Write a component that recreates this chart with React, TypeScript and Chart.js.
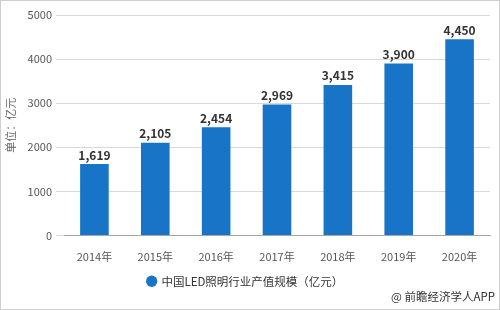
import React, { useEffect, useRef } from "react";
import { Chart, registerables } from "chart.js";

Chart.register(...registerables);

const categories = ["2014年", "2015年", "2016年", "2017年", "2018年", "2019年", "2020年"];
const values = [1619, 2105, 2454, 2969, 3415, 3900, 4450];
const seriesName = "中国LED照明行业产值规模（亿元）";
const yTitle = "单位：亿元";
const sourceText = "@ 前瞻经济学人APP";

const BAR = "#1874c6";
const FONT = "'Noto Sans CJK SC', 'Noto Sans', sans-serif";

const dataLabels = {
  id: "dataLabels",
  afterDatasetsDraw(chart: any) {
    const ctx = chart.ctx;
    const meta = chart.getDatasetMeta(0);
    ctx.save();
    ctx.font = `bold 12px ${FONT}`;
    ctx.fillStyle = "#333333";
    ctx.textAlign = "center";
    ctx.textBaseline = "bottom";
    meta.data.forEach((bar: any, i: number) => {
      const v = chart.data.datasets[0].data[i] as number;
      ctx.fillText(v.toLocaleString("en-US"), bar.x, bar.y - 3);
    });
    ctx.restore();
  },
};

export default function App() {
  const ref = useRef<HTMLCanvasElement>(null);
  useEffect(() => {
    if (!ref.current) return;
    const chart = new Chart(ref.current, {
      type: "bar",
      data: {
        labels: categories,
        datasets: [
          {
            label: seriesName,
            data: values,
            backgroundColor: BAR,
            borderColor: BAR,
            categoryPercentage: 1,
            barPercentage: 0.47,
          },
        ],
      },
      options: {
        animation: false,
        responsive: false,
        devicePixelRatio: 1,
        layout: { padding: { top: 15, right: 10, bottom: 13, left: 1 } },
        plugins: {
          tooltip: { enabled: false },
          legend: {
            position: "bottom",
            labels: {
              usePointStyle: true,
              pointStyle: "circle",
              boxWidth: 8,
              boxHeight: 8,
              padding: 10,
              color: "#333333",
              font: { family: FONT, size: 11.5 },
            },
          },
        },
        scales: {
          x: {
            grid: { display: false },
            border: { display: true, color: "#a6a6a6" },
            ticks: { color: "#555555", font: { family: FONT, size: 11 }, padding: 7 },
            afterFit: (s: any) => {
              s.height = 30;
            },
          },
          y: {
            min: 0,
            max: 5000,
            ticks: {
              stepSize: 1000,
              color: "#555555",
              font: { family: FONT, size: 11 },
              padding: 4,
              callback: (v: any) => String(v),
            },
            grid: { color: "#d9d9d9", tickLength: 8, tickColor: "#d9d9d9" },
            border: { display: false },
            title: {
              display: true,
              text: yTitle,
              color: "#666666",
              font: { family: FONT, size: 11 },
              padding: { top: 3, bottom: 2 },
            },
            afterFit: (s: any) => {
              s.width = 63;
            },
          },
        },
      },
      plugins: [dataLabels],
    });
    return () => chart.destroy();
  }, []);

  return (
    <div style={{ position: "fixed", left: 0, top: 0, width: 500, height: 310, background: "#fff" }}>
      <canvas ref={ref} width={500} height={310} style={{ position: "absolute", left: 0, top: 0 }} />
      <div
        style={{
          position: "absolute",
          right: 5,
          bottom: 6,
          fontFamily: FONT,
          fontSize: 11.5,
          color: "#333",
          lineHeight: "16px",
          whiteSpace: "nowrap",
        }}
      >
        {sourceText}
      </div>
      <div
        style={{
          position: "absolute",
          left: 0,
          top: 0,
          width: 500,
          height: 310,
          boxSizing: "border-box",
          border: "1px solid #cfcfcf",
          pointerEvents: "none",
        }}
      />
    </div>
  );
}
